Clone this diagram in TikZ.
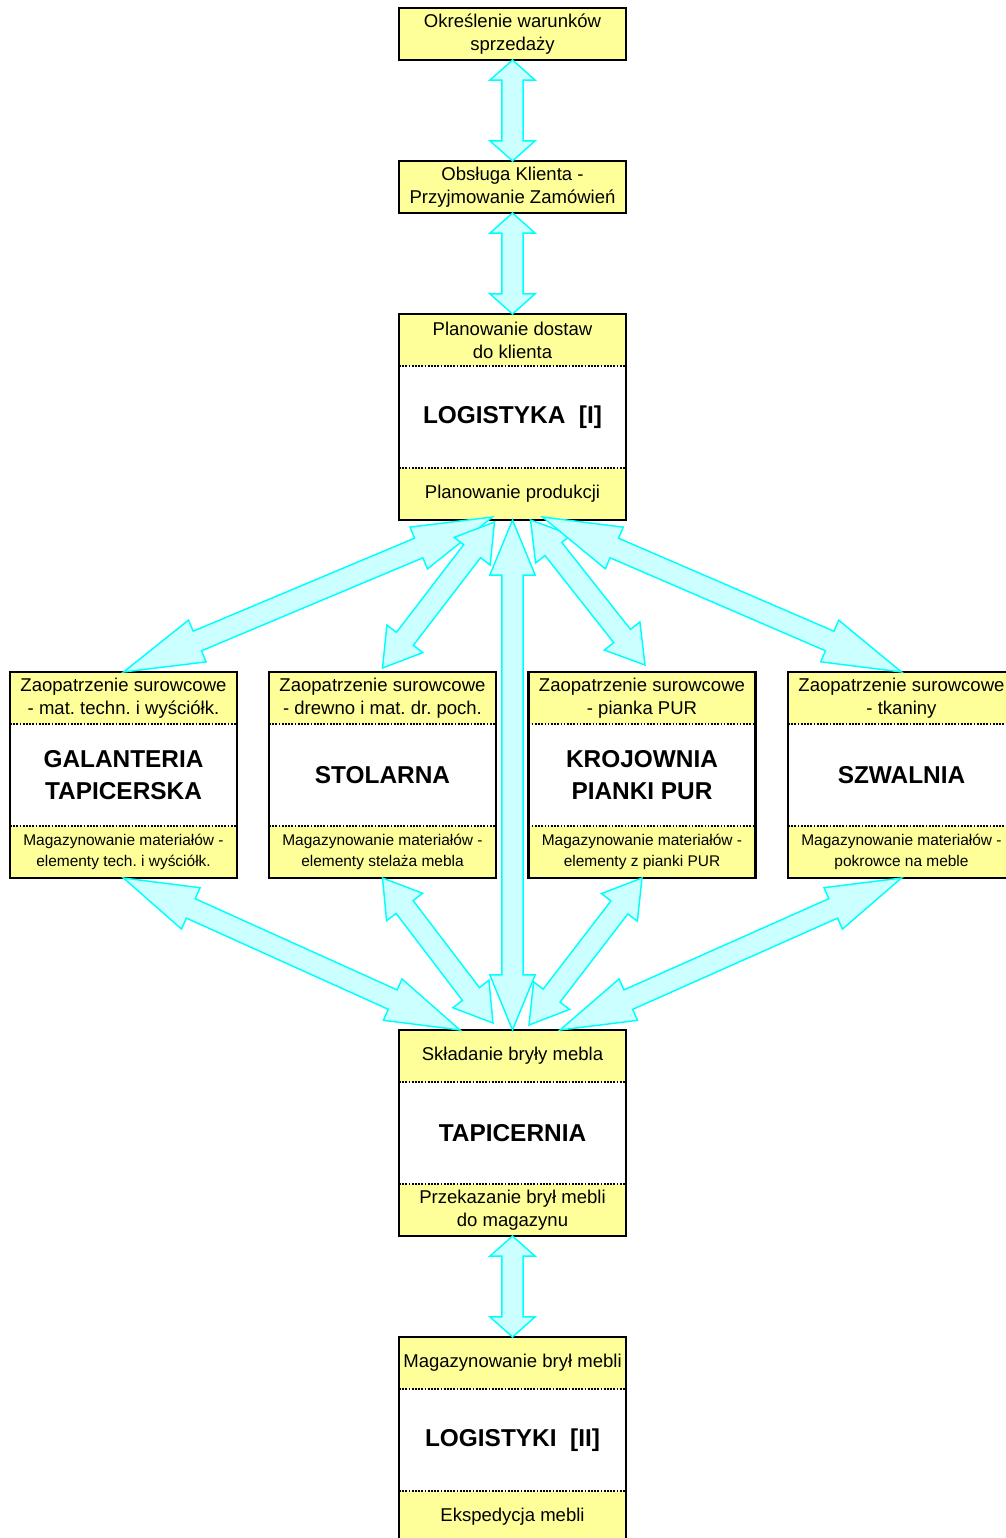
\documentclass[tikz,border=0pt]{standalone}
\usepackage{fontspec}
\setmainfont{Liberation Sans}
\usetikzlibrary{positioning, calc}
\frenchspacing

\definecolor{boxyellow}{RGB}{255,255,153}
\definecolor{flowfill}{RGB}{204,255,255}
\definecolor{flowedge}{RGB}{0,255,255}

% fat double arrow between two points, #1 = head length as part of the arrow
\newcommand{\flowarrow}[3][0.2]{%
  \draw[flowline] (#2) -- ($(#2)!#1!(#3)!17pt!90:(#3)$) -- ($(#2)!#1!(#3)!8pt!90:(#3)$)
    -- ($(#3)!#1!(#2)!8pt!-90:(#2)$) -- ($(#3)!#1!(#2)!17pt!-90:(#2)$) -- (#3)
    -- ($(#3)!#1!(#2)!17pt!90:(#2)$) -- ($(#3)!#1!(#2)!8pt!90:(#2)$)
    -- ($(#2)!#1!(#3)!8pt!-90:(#3)$) -- ($(#2)!#1!(#3)!17pt!-90:(#3)$) -- cycle;}

% department: name, centre of top part, top text, title, bottom text, style of bottom part
\newcommand{\deptbox}[6]{%
  \node[topcell] (#1a) at (#2) {#3};
  \node[titlecell, below=0pt of #1a] (#1) {#4};
  \node[#6, below=0pt of #1] (#1b) {#5};
  \draw[divider] (#1a.south west) -- (#1a.south east) (#1b.north west) -- (#1b.north east);
  \draw[frame] (#1a.north west) rectangle (#1b.south east);}

\begin{document}
\begin{tikzpicture}[
    x=0.75pt, y=-0.75pt,
    topcell/.style={fill=boxyellow, minimum width=170.25pt, minimum height=39pt, inner sep=0pt,
      outer sep=0pt, align=center, font=\fontsize{13.9}{17.25}\selectfont},
    smallcell/.style={topcell, font=\fontsize{11.6}{15.75}\selectfont},
    titlecell/.style={topcell, fill=white, minimum height=76.5pt, font=\fontsize{18.3}{24}\selectfont\bfseries},
    frame/.style={draw, line width=1.6pt},
    divider/.style={line width=1.7pt, dash pattern=on 1.3pt off 1.1pt},
    flowline/.style={draw=flowedge, fill=flowfill, line width=1.1pt}
  ]
  \useasboundingbox (0,0) rectangle (1006,1538);
  \clip (0,0) rectangle (1006,1538);

  \node[topcell, frame] (sales) at (512.5,34) {Określenie warunków\\sprzedaży};
  \node[topcell, frame] (orders) at (512.5,187) {Obsługa Klienta -\\Przyjmowanie Zamówień};

  \deptbox{log}{512.5,340}{Planowanie dostaw\\do klienta}{LOGISTYKA~~[I]}{Planowanie produkcji}{topcell}

  \deptbox{gal}{123.5,698}{Zaopatrzenie surowcowe\\- mat. techn. i wyściółk.}{GALANTERIA\\TAPICERSKA}{Magazynowanie materiałów -\\elementy tech. i wyściółk.}{smallcell}
  \deptbox{sto}{382.5,698}{Zaopatrzenie surowcowe\\- drewno i mat. dr. poch.}{STOLARNA}{Magazynowanie materiałów -\\elementy stelaża mebla}{smallcell}
  \deptbox{kro}{642,698}{Zaopatrzenie surowcowe\\- pianka PUR}{KROJOWNIA\\PIANKI PUR}{Magazynowanie materiałów -\\elementy z pianki PUR}{smallcell}
  \deptbox{szw}{901.5,698}{Zaopatrzenie surowcowe\\- tkaniny}{SZWALNIA}{Magazynowanie materiałów -\\pokrowce na meble}{smallcell}

  \deptbox{tap}{512.5,1056}{Składanie bryły mebla}{TAPICERNIA}{Przekazanie brył mebli\\do magazynu}{topcell}
  \deptbox{mag}{512.5,1363}{Magazynowanie brył mebli}{LOGISTYKI~~[II]}{Ekspedycja mebli}{topcell}

  % arrow ends
  \coordinate (lg) at ($(logb.south)+(-20,-3)$);
  \coordinate (ls) at ($(logb.south)+(-18,2)$);
  \coordinate (lk) at ($(logb.south)+(18,0)$);
  \coordinate (lz) at ($(logb.south)+(30,-3)$);
  \coordinate (sk) at ($(stoa.north)+(0,-4)$);
  \coordinate (kk) at ($(kroa.north)+(3,-7)$);
  \coordinate (tg) at ($(tapa.north)+(-52.5,0)$);
  \coordinate (ts) at ($(tapa.north)+(-19.5,-7)$);
  \coordinate (tk) at ($(tapa.north)+(16.5,-5)$);
  \coordinate (tz) at ($(tapa.north)+(47.5,0)$);

  \flowarrow{sales.south}{orders.north}
  \flowarrow{orders.south}{loga.north}
  \flowarrow{tapb.south}{maga.north}

  \flowarrow{gala.north}{lg}
  \flowarrow{sk}{ls}
  \flowarrow{kk}{lk}
  \flowarrow{szwa.north}{lz}

  \flowarrow{galb.south}{tg}
  \flowarrow{stob.south}{ts}
  \flowarrow{krob.south}{tk}
  \flowarrow{szwb.south}{tz}

  \flowarrow[0.108]{logb.south}{tapa.north}
\end{tikzpicture}
\end{document}
